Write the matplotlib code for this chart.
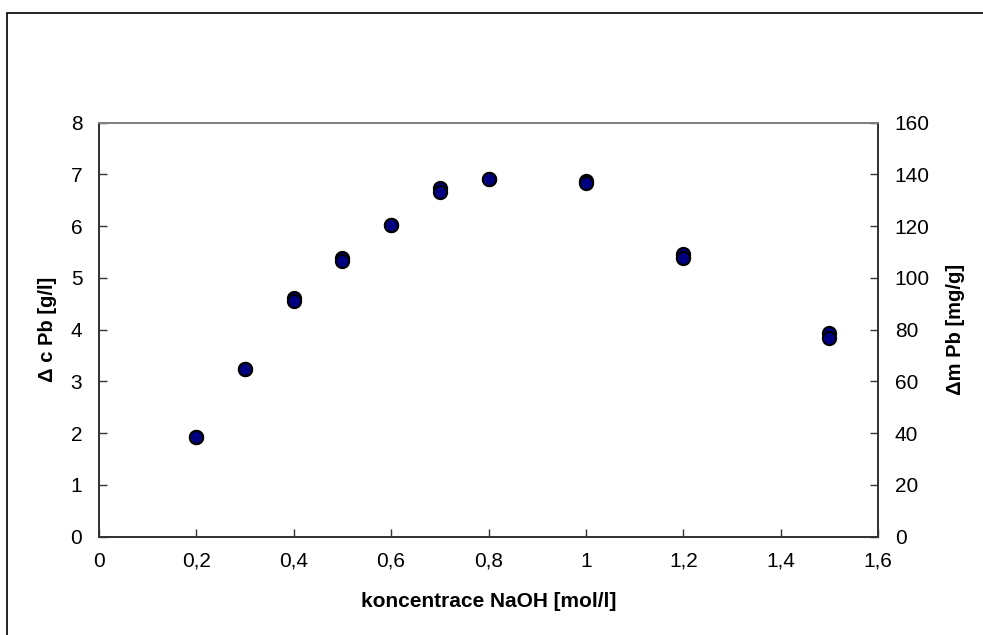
import matplotlib
matplotlib.use("Agg")
import matplotlib.pyplot as plt
from matplotlib.patches import Rectangle

plt.rcParams['font.family'] = ['Liberation Sans', 'DejaVu Sans']

# data
naoh = [0.2, 0.3, 0.4, 0.5, 0.6, 0.7, 0.8, 1.0, 1.2, 1.5]
delta_c = [1.93, 3.23, 4.62, 5.39, 6.03, 6.74, 6.91, 6.88, 5.47, 3.93]
delta_m = [38.6, 64.6, 91.2, 106.6, 120.6, 133.2, 138.2, 136.8, 107.8, 76.6]

x_ticks = [0, 0.2, 0.4, 0.6, 0.8, 1.0, 1.2, 1.4, 1.6]
x_labels = ['0', '0,2', '0,4', '0,6', '0,8', '1', '1,2', '1,4', '1,6']
left_ticks = [0, 1, 2, 3, 4, 5, 6, 7, 8]
right_ticks = [0, 20, 40, 60, 80, 100, 120, 140, 160]

fig = plt.figure(figsize=(9.83, 6.35), dpi=100)
ax = fig.add_axes([0.1007, 0.155, 0.7925, 0.6518])
ax2 = ax.twinx()

ax.plot(naoh, delta_c, 'o', color='#000080', markersize=9.5,
        markeredgecolor='black', markeredgewidth=1.5, zorder=3)
ax2.plot(naoh, delta_m, 'o', color='#000080', markersize=9.5,
         markeredgecolor='black', markeredgewidth=1.5, zorder=3)

ax.set_xlim(0, 1.6)
ax.set_ylim(0, 8)
ax2.set_ylim(0, 160)
ax.set_xticks(x_ticks)
ax.set_xticklabels(x_labels)
ax.set_yticks(left_ticks)
ax2.set_yticks(right_ticks)

for a in (ax, ax2):
    a.tick_params(direction='in', length=6, width=1, labelsize=15,
                  color='#333333', pad=12)
    for s in a.spines.values():
        s.set_color('#333333')
        s.set_linewidth(1.3)
    a.spines['top'].set_color('#808080')
ax.tick_params(axis='x', pad=11)

ax.set_xlabel('koncentrace NaOH [mol/l]', fontsize=15, fontweight='bold',
              labelpad=15)
ax.set_ylabel('Δ c Pb [g/l]', fontsize=14.5, fontweight='bold', labelpad=10)
ax2.set_ylabel('Δm Pb [mg/g]', fontsize=14.5, fontweight='bold', labelpad=12)

# outer chart border (cropped at right and bottom)
fig.patches.append(Rectangle((7 / 983, -0.1), 1.2, 1 - 13 / 635 + 0.1,
                             transform=fig.transFigure, fill=False,
                             edgecolor='black', linewidth=1.2))

fig.savefig('out.png', dpi=100)
